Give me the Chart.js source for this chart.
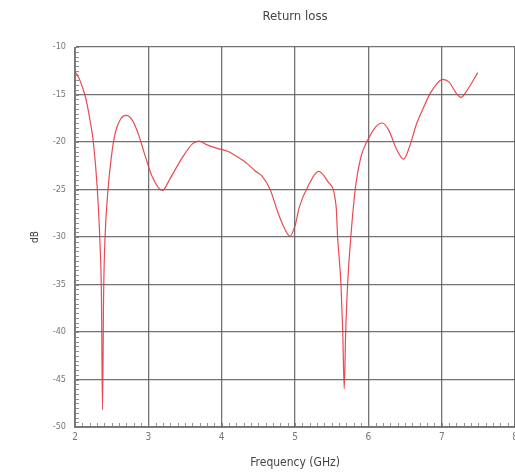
<!DOCTYPE html>
<html>
<head>
<meta charset="utf-8">
<script src="https://cdn.jsdelivr.net/npm/chart.js@4"></script>
<style>
  html, body { margin: 0; padding: 0; background: #fff; overflow: hidden; }
  canvas { display: block; }
</style>
</head>
<body>
<canvas id="chartReturnLoss" width="522" height="473" style="width:522px;height:473px"></canvas>
<script>
// values
const freqGHz = [
  2.00, 2.05, 2.10, 2.15, 2.20, 2.25, 2.30, 2.34, 2.36, 2.375, 2.39, 2.41, 2.45, 2.50,
  2.55, 2.62, 2.70, 2.78, 2.87, 2.95, 3.05, 3.19, 3.30, 3.45, 3.60, 3.69, 3.80, 3.95,
  4.09, 4.20, 4.32, 4.45, 4.55, 4.66, 4.77, 4.85, 4.93, 5.00, 5.06, 5.18, 5.32, 5.45,
  5.56, 5.58, 5.626, 5.65, 5.67, 5.69, 5.716, 5.76, 5.82, 5.90, 5.99, 6.10, 6.19, 6.28,
  6.38, 6.48, 6.56, 6.66, 6.75, 6.82, 6.90, 7.01, 7.10, 7.20, 7.26, 7.35, 7.49,
]
const returnLossDb = [
  -12.6, -13.2, -14.2, -15.5, -17.5, -20.0, -24.5, -30.5, -36.0, -48.2, -36.0, -30.0, -25.0, -21.3,
  -19.0, -17.6, -17.2, -17.7, -19.3, -21.3, -23.6, -25.1, -23.8, -21.8, -20.2, -19.9, -20.3, -20.7,
  -21.0, -21.5, -22.1, -23.0, -23.6, -25.0, -27.5, -29.0, -29.9, -28.8, -26.8, -24.6, -23.1, -24.2,
  -26.8, -30.0, -35.0, -40.0, -46.0, -40.0, -35.0, -30.0, -25.0, -21.5, -19.8, -18.4, -18.0, -18.8,
  -20.7, -21.8, -20.5, -18.0, -16.4, -15.2, -14.2, -13.4, -13.7, -14.9, -15.3, -14.5, -12.7,
]
const xTicks = [2, 3, 4, 5, 6, 7, 8]
const yTicks = [-10, -15, -20, -25, -30, -35, -40, -45, -50]

const fontFamily = "'Liberation Sans Narrow', 'DejaVu Sans Condensed', sans-serif"
const gridColor = 'rgba(90, 90, 90, 0.85)'

// small inward ticks along the left and bottom axes
const minorTicks = {
  id: 'minorTicks',
  afterDraw(chart) {
    const { ctx, chartArea, scales } = chart
    ctx.save()
    ctx.strokeStyle = 'rgba(120, 120, 120, 0.8)'
    ctx.lineWidth = 1
    ctx.beginPath()
    for (let v = -50; v <= -10; v += 0.5) {
      const y = Math.round(scales.y.getPixelForValue(v)) + 0.5
      ctx.moveTo(chartArea.left, y)
      ctx.lineTo(chartArea.left + 4, y)
    }
    for (let i = 0; i <= 60; i++) {
      const x = Math.round(scales.x.getPixelForValue(2 + i / 10)) + 0.5
      ctx.moveTo(x, chartArea.bottom)
      ctx.lineTo(x, chartArea.bottom - 4)
    }
    ctx.stroke()
    ctx.restore()
  },
}

const ctx = document.getElementById('chartReturnLoss').getContext('2d')
const chart = new Chart(ctx, {
  type: 'line',
  data: {
    datasets: [
      {
        label: 'Return loss',
        data: freqGHz.map((f, i) => ({ x: f, y: returnLossDb[i] })),
        borderColor: 'rgba(228, 55, 65, 0.9)',
        borderWidth: 1.2,
        pointRadius: 0,
        cubicInterpolationMode: 'monotone',
        fill: false,
      },
    ],
  },
  options: {
    responsive: false,
    animation: false,
    layout: { padding: { left: 0, right: 3, top: 0, bottom: 0 } },
    scales: {
      x: {
        type: 'linear',
        min: 2,
        max: 8,
        afterBuildTicks: (s) => { s.ticks = xTicks.map((v) => ({ value: v })) },
        afterFit: (s) => { s.height = 46 },
        grid: { color: gridColor, lineWidth: 1.3, tickLength: 0 },
        border: { color: 'rgba(120,120,120,0.9)' },
        ticks: { color: '#777', padding: 4, font: { family: fontFamily, size: 10 } },
        title: {
          display: true,
          text: 'Frequency (GHz)',
          color: '#444',
          padding: { top: 0, bottom: 3 },
          font: { family: fontFamily, size: 12 },
        },
      },
      xTop: {
        type: 'linear',
        position: 'top',
        min: 2,
        max: 8,
        afterFit: (s) => { s.height = 47 },
        grid: { display: false },
        border: { display: false },
        ticks: { display: false },
        title: {
          display: true,
          text: 'Return loss',
          color: '#444',
          padding: { top: 9, bottom: 0 },
          font: { family: fontFamily, size: 13 },
        },
      },
      y: {
        type: 'linear',
        min: -50,
        max: -10,
        afterBuildTicks: (s) => { s.ticks = yTicks.map((v) => ({ value: v })) },
        afterFit: (s) => { s.width = 75 },
        grid: { color: gridColor, lineWidth: 1.3, tickLength: 0 },
        border: { color: 'rgba(120,120,120,0.9)' },
        ticks: { color: '#777', padding: 9, font: { family: fontFamily, size: 9 } },
        title: {
          display: true,
          text: 'dB',
          color: '#444',
          padding: { top: 29, bottom: 0 },
          font: { family: fontFamily, size: 10 },
        },
      },
    },
    plugins: {
      legend: { display: false },
      tooltip: { enabled: false },
    },
  },
  plugins: [minorTicks],
})
</script>
</body>
</html>
